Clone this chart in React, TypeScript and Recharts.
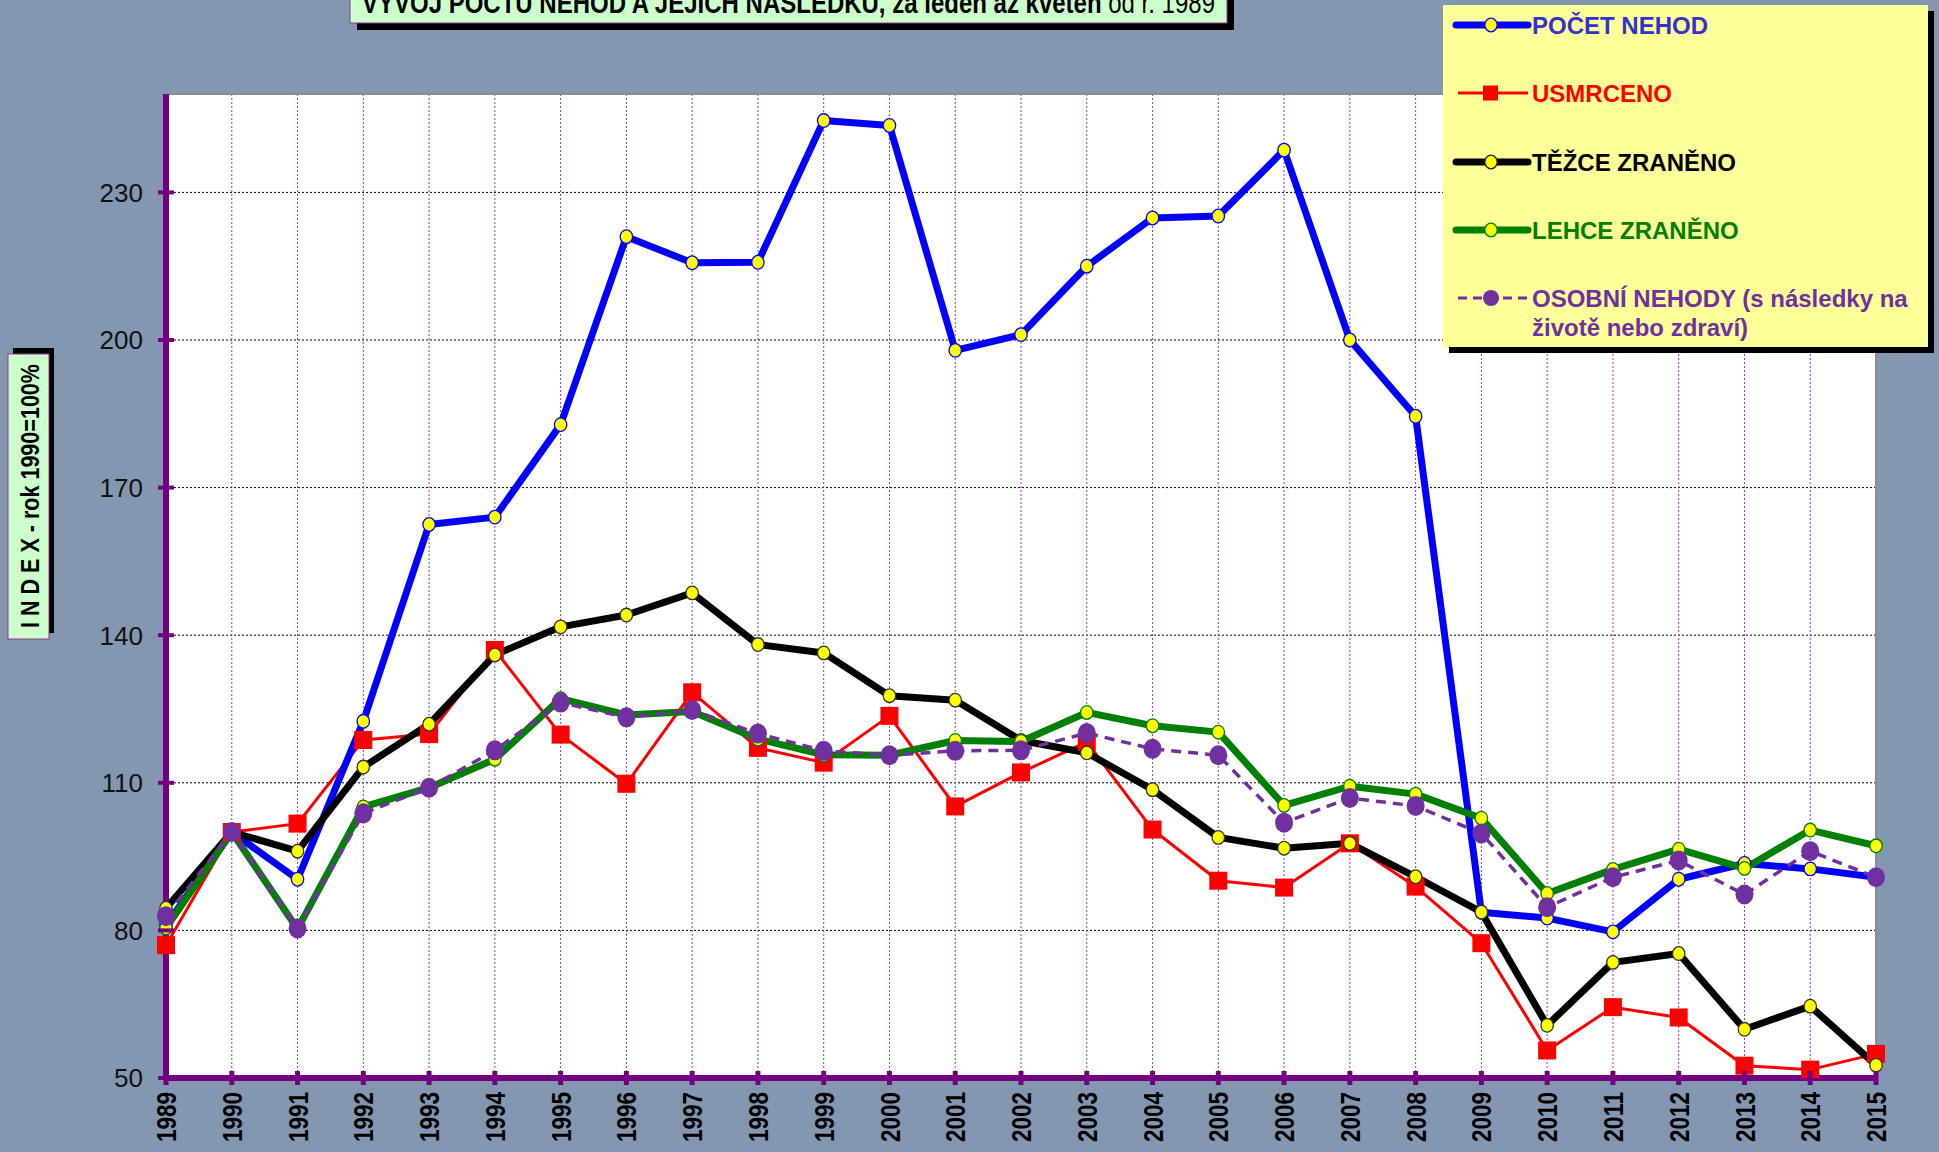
import React from 'react';
import { LineChart, Line, XAxis, YAxis, CartesianGrid, Legend, Customized, ReferenceLine } from 'recharts';

// ---- data ----
const years = ['1989','1990','1991','1992','1993','1994','1995','1996','1997','1998','1999','2000','2001','2002','2003','2004','2005','2006','2007','2008','2009','2010','2011','2012','2013','2014','2015'];
const pocetNehod = [81, 100, 90.4, 122.5, 162.5, 164, 182.8, 221, 215.7, 215.8, 244.6, 243.6, 197.9, 201.1, 215, 224.8, 225.2, 238.6, 200, 184.5, 83.7, 82.5, 79.7, 90.4, 93.6, 92.5, 90.8];
const usmrceno = [77, 100, 101.7, 118.7, 119.9, 137, 119.8, 109.8, 128.4, 117.1, 114.1, 123.6, 105.2, 112.1, 118.3, 100.5, 90.1, 88.7, 97.7, 88.9, 77.4, 55.6, 64.4, 62.3, 52.5, 51.7, 54.9];
const tezceZraneno = [84.5, 100, 96.1, 113.2, 121.9, 136, 141.7, 144.1, 148.6, 138.1, 136.4, 127.7, 126.8, 118.6, 116.1, 108.6, 98.9, 96.7, 97.7, 90.9, 83.7, 60.7, 73.5, 75.3, 59.9, 64.6, 52.6];
const lehceZraneno = [80.5, 100, 80.3, 105.1, 109, 114.8, 127.1, 123.8, 124.5, 118.9, 115.7, 115.6, 118.6, 118.4, 124.3, 121.6, 120.3, 105.4, 109.3, 107.7, 102.8, 87.5, 92.4, 96.5, 92.6, 100.4, 97.2];
const osobniNehody = [82.9, 100, 80.4, 103.8, 109, 116.6, 126.3, 123.3, 124.8, 120, 116.5, 115.6, 116.5, 116.6, 120.1, 116.9, 115.6, 101.9, 106.9, 105.3, 99.7, 84.7, 90.8, 94.2, 87.3, 96.1, 90.8];
const yTicks = [50, 80, 110, 140, 170, 200, 230];
const titleBold = 'VÝVOJ POČTU NEHOD A JEJICH NÁSLEDKŮ, za leden až květen';
const titleNormal = ' od r. 1989';
const yAxisTitle = 'I N D E X - rok 1990=100%';

const seriesNames = {
  pocet: 'POČET NEHOD',
  usmrceno: 'USMRCENO',
  tezce: 'TĚŽCE ZRANĚNO',
  lehce: 'LEHCE ZRANĚNO',
  osobni1: 'OSOBNÍ NEHODY (s následky na',
  osobni2: 'životě nebo zdraví)',
};

const data = years.map((y, i) => ({
  year: y,
  pocet: pocetNehod[i],
  usmrceno: usmrceno[i],
  tezce: tezceZraneno[i],
  lehce: lehceZraneno[i],
  osobni: osobniNehody[i],
}));

const AX = '#730080';
const BG = '#8497B0';
const FONT = "'Liberation Sans', Arial, sans-serif";
const NARROW = "'Liberation Sans Narrow', 'Arial Narrow', 'Liberation Sans', Arial, sans-serif";

const yellowDot = (stroke: string) => (p: any) => (
  <ellipse key={p.index} cx={p.cx} cy={p.cy} rx={6.2} ry={6.8} fill="#FFFF00" stroke={stroke} strokeWidth={1.3} />
);
const squareDot = (p: any) => (
  <rect key={p.index} x={p.cx - 9} y={p.cy - 9} width={18} height={18} fill="#FF0000" />
);
const purpleDot = (p: any) => (
  <ellipse key={p.index} cx={p.cx} cy={p.cy} rx={9} ry={10} fill="#7030A0" />
);

const XTick = (props: any) => {
  const { x, payload } = props;
  return (
    <g>
      <line x1={x} x2={x} y1={1071} y2={1085} stroke={AX} strokeWidth={5} />
      <text
        x={x}
        y={1092}
        dy="0.36em"
        transform={`rotate(-90 ${x} 1092)`}
        textAnchor="end"
        fontFamily={NARROW}
        fontWeight="bold"
        fontSize={28}
        textLength={50}
        lengthAdjust="spacingAndGlyphs"
        fill="#000"
      >
        {payload.value}
      </text>
    </g>
  );
};

const YTick = (props: any) => {
  const { y, payload } = props;
  return (
    <g>
      <line x1={158} x2={174} y1={y} y2={y} stroke={AX} strokeWidth={4} />
      <text x={143} y={y} dy="0.36em" textAnchor="end" fontFamily={FONT} fontSize={26} fill="#111">
        {payload.value}
      </text>
    </g>
  );
};

const Decorations = () => (
  <g>
    {/* title */}
    <rect x={357} y={-4} width={877} height={34} fill="#000" />
    <rect x={350} y={-10} width={877} height={33} fill="#CCFFCC" stroke="#993399" strokeWidth={1} />
    <text x={362} y={13} fontFamily={NARROW} fontSize={30} fill="#000" textLength={853} lengthAdjust="spacingAndGlyphs">
      <tspan fontWeight="bold">{titleBold}</tspan>
      <tspan fontWeight="normal">{titleNormal}</tspan>
    </text>
    {/* y axis title */}
    <rect x={13} y={348} width={41} height={285} fill="#000" />
    <rect x={8} y={354} width={41} height={285} fill="#CCFFCC" stroke="#993399" strokeWidth={1} />
    <text
      x={30}
      y={496}
      dy="0.36em"
      transform="rotate(-90 30 496)"
      textAnchor="middle"
      fontFamily={NARROW}
      fontWeight="bold"
      fontSize={25}
      textLength={264}
      lengthAdjust="spacingAndGlyphs"
      fill="#000"
    >
      {yAxisTitle}
    </text>
  </g>
);

const legendItems = [
  { key: 'pocet', label: [seriesNames.pocet], color: '#0000FF', text: '#3333CC', kind: 'thick', stroke: '#0000FF' },
  { key: 'usmrceno', label: [seriesNames.usmrceno], color: '#FF0000', text: '#FF0000', kind: 'square' },
  { key: 'tezce', label: [seriesNames.tezce], color: '#000000', text: '#000000', kind: 'thick', stroke: '#222' },
  { key: 'lehce', label: [seriesNames.lehce], color: '#008000', text: '#008000', kind: 'thick', stroke: '#008000' },
  { key: 'osobni', label: [seriesNames.osobni1, seriesNames.osobni2], color: '#7030A0', text: '#7030A0', kind: 'dashed' },
];
const legendRows = [20, 88, 157, 225, 293];

const LegendBox = () => (
  <svg width={493} height={350} style={{ display: 'block' }}>
    <rect x={6} y={6} width={485} height={342} fill="#000" />
    <rect x={0} y={0} width={485} height={342} fill="#FFFF99" />
    {legendItems.map((it, i) => {
      const cy = legendRows[i];
      let sym;
      if (it.kind === 'thick') {
        sym = (
          <g>
            <line x1={13} x2={85} y1={cy} y2={cy} stroke={it.color} strokeWidth={7} strokeLinecap="round" />
            <ellipse cx={48} cy={cy} rx={6.2} ry={6.8} fill="#FFFF00" stroke={it.stroke} strokeWidth={1.3} />
          </g>
        );
      } else if (it.kind === 'square') {
        sym = (
          <g>
            <line x1={15} x2={85} y1={cy} y2={cy} stroke={it.color} strokeWidth={3} />
            <rect x={40} y={cy - 7.5} width={15} height={15} fill={it.color} />
          </g>
        );
      } else {
        sym = (
          <g>
            <line x1={15} x2={85} y1={cy} y2={cy} stroke={it.color} strokeWidth={3} strokeDasharray="9 6" />
            <ellipse cx={48} cy={cy} rx={8} ry={8} fill={it.color} />
          </g>
        );
      }
      return (
        <g key={it.key}>
          {sym}
          {it.label.map((l, j) => (
            <text key={j} x={89} y={cy + 8.5 + j * 29} fontFamily={FONT} fontWeight="bold" fontSize={24} fill={it.text}>
              {l}
            </text>
          ))}
        </g>
      );
    })}
  </svg>
);

export default function App() {
  return (
    <div style={{ position: 'absolute', left: 0, top: 0, width: 1939, height: 1152, background: BG, overflow: 'hidden' }}>
      <LineChart width={1939} height={1152} data={data} margin={{ top: 94, right: 63, bottom: 0, left: 0 }}>
        <CartesianGrid vertical={false} stroke="#000" strokeDasharray="2 2" strokeWidth={1} fill="#FFFFFF" />
        <CartesianGrid horizontal={false} stroke="#A030B0" strokeDasharray="2 2" strokeWidth={1} />
        <ReferenceLine y={250} stroke="#8C8C8C" strokeWidth={2} />
        <ReferenceLine x="2015" stroke="#8C8C8C" strokeWidth={2} />
        <XAxis
          dataKey="year"
          height={74}
          interval={0}
          padding={{ left: 0, right: 0 }}
          axisLine={{ stroke: AX, strokeWidth: 6 }}
          tickLine={false}
          tick={<XTick />}
        />
        <YAxis
          type="number"
          domain={[50, 250]}
          ticks={yTicks}
          interval={0}
          width={166}
          allowDataOverflow
          axisLine={{ stroke: AX, strokeWidth: 6 }}
          tickLine={false}
          tick={<YTick />}
        />
        <Legend
          layout="horizontal"
          verticalAlign="middle"
          align="center"
          content={() => <LegendBox />}
          wrapperStyle={{ position: 'absolute', left: 1443, top: 5, width: 493, height: 350 }}
        />
        <Line type="linear" dataKey="usmrceno" name={seriesNames.usmrceno} stroke="#FF0000" strokeWidth={3} strokeLinejoin="round" dot={squareDot} activeDot={false} isAnimationActive={false} />
        <Line type="linear" dataKey="pocet" name={seriesNames.pocet} stroke="#0000FF" strokeWidth={7} strokeLinejoin="round" dot={yellowDot('#0000FF')} activeDot={false} isAnimationActive={false} />
        <Line type="linear" dataKey="tezce" name={seriesNames.tezce} stroke="#000000" strokeWidth={7} strokeLinejoin="round" dot={yellowDot('#333')} activeDot={false} isAnimationActive={false} />
        <Line type="linear" dataKey="lehce" name={seriesNames.lehce} stroke="#008000" strokeWidth={7} strokeLinejoin="round" dot={yellowDot('#008000')} activeDot={false} isAnimationActive={false} />
        <Line type="linear" dataKey="osobni" name="OSOBNÍ NEHODY (s následky na životě nebo zdraví)" stroke="#7030A0" strokeWidth={3.5} strokeDasharray="10 7" strokeLinejoin="round" dot={purpleDot} activeDot={false} isAnimationActive={false} />
        <Customized component={Decorations} />
      </LineChart>
    </div>
  );
}
